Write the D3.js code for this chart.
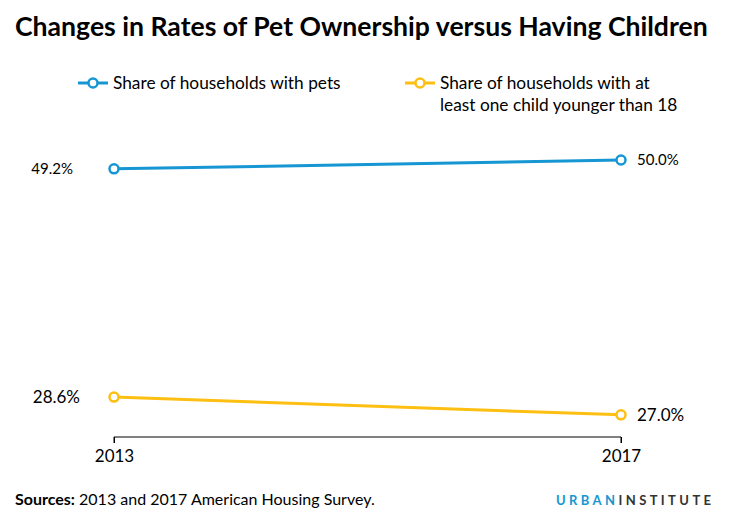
<!DOCTYPE html>
<html>
<head>
<meta charset="utf-8">
<script src="https://cdn.jsdelivr.net/npm/d3@7"></script>
<style>
  body { margin: 0; background: #fff; }
  text { font-family: Lato, "Open Sans", sans-serif; fill: #000; }
</style>
</head>
<body>
<div id="chart"></div>
<script>
// data
var years = [2013, 2017];
var petShare = [49.2, 50.0];
var childShare = [28.6, 27.0];
var seriesNames = ["Share of households with pets",
                   "Share of households with at|least one child younger than 18"];
var seriesColors = ["#1696d2", "#fdbf11"];

var W = 731, H = 521;
var margin = { top: 160, right: 110, bottom: 84, left: 114 },
    width = W - margin.left - margin.right,
    height = H - margin.top - margin.bottom;

var svg = d3.select("#chart")
    .append("svg")
    .attr("width", W)
    .attr("height", H);

var g = svg.append("g")
    .attr("transform", "translate(" + margin.left + "," + margin.top + ")");

var x = d3.scalePoint()
    .domain(years)
    .range([0, width]);

var y = d3.scaleLinear()
    .domain([25, 50])
    .range([height, 0]);

// title
svg.append("text")
    .attr("x", 15)
    .attr("y", 36)
    .style("font-size", "26.6px")
    .style("font-weight", "bold")
    .text("Changes in Rates of Pet Ownership versus Having Children");

// x axis
var xAxis = g.append("g")
    .attr("transform", "translate(0," + height + ")")
    .call(d3.axisBottom(x).tickSize(6).tickPadding(7).tickFormat(d3.format("d")));
xAxis.select(".domain").attr("stroke", "#000").attr("d", "M0,6V0H" + width + "V6");
xAxis.selectAll("text")
    .style("font-size", "17px")
    .style("font-family", "Lato, sans-serif")
    .attr("fill", "#000");

var series = [petShare, childShare];
var line = d3.line()
    .x(function(d, i) { return x(years[i]); })
    .y(function(d) { return y(d); });

series.forEach(function(vals, s) {
    g.append("path")
        .datum(vals)
        .attr("fill", "none")
        .attr("stroke", seriesColors[s])
        .attr("stroke-width", 3)
        .attr("d", line);

    g.selectAll(".pt" + s)
        .data(vals)
        .enter()
        .append("circle")
        .attr("cx", function(d, i) { return x(years[i]); })
        .attr("cy", function(d) { return y(d); })
        .attr("r", 4.5)
        .attr("fill", "#fff")
        .attr("stroke", seriesColors[s])
        .attr("stroke-width", 2.5);
});

// value labels
var fmt = function(v) { return v.toFixed(1) + "%"; };
var labelSize = [15, 17];
var leftGap = [41, 34];
series.forEach(function(vals, s) {
    g.append("text")
        .attr("x", x(years[0]) - leftGap[s])
        .attr("y", y(vals[0]))
        .attr("dy", "0.35em")
        .attr("text-anchor", "end")
        .style("font-size", labelSize[s] + "px")
        .text(fmt(vals[0]));
    g.append("text")
        .attr("x", x(years[1]) + 16)
        .attr("y", y(vals[1]))
        .attr("dy", "0.35em")
        .style("font-size", labelSize[s] + "px")
        .text(fmt(vals[1]));
});

// legend
var legendX = [78, 405];
seriesNames.forEach(function(name, s) {
    var lg = svg.append("g").attr("transform", "translate(" + legendX[s] + ",83)");
    lg.append("line")
        .attr("x1", 0).attr("x2", 30)
        .attr("stroke", seriesColors[s])
        .attr("stroke-width", 3);
    lg.append("circle")
        .attr("cx", 15)
        .attr("r", 4.5)
        .attr("fill", "#fff")
        .attr("stroke", seriesColors[s])
        .attr("stroke-width", 2.5);
    var t = lg.append("text")
        .attr("y", 6)
        .style("font-size", "17.3px");
    name.split("|").forEach(function(part, k) {
        t.append("tspan")
            .attr("x", 35)
            .attr("dy", k == 0 ? 0 : 22)
            .text(part);
    });
});

// footer
var src = svg.append("text")
    .attr("x", 15)
    .attr("y", 505)
    .style("font-size", "16px");
src.append("tspan").style("font-weight", "bold").text("Sources:");
src.append("tspan").text(" 2013 and 2017 American Housing Survey.");

var logo = svg.append("text")
    .attr("x", 556)
    .attr("y", 505)
    .style("font-size", "13px")
    .style("font-weight", "bold")
    .style("letter-spacing", "3.4px");
logo.append("tspan").style("fill", "#1696d2").text("URBAN");
logo.append("tspan").style("fill", "#333").text("INSTITUTE");
</script>
</body>
</html>
